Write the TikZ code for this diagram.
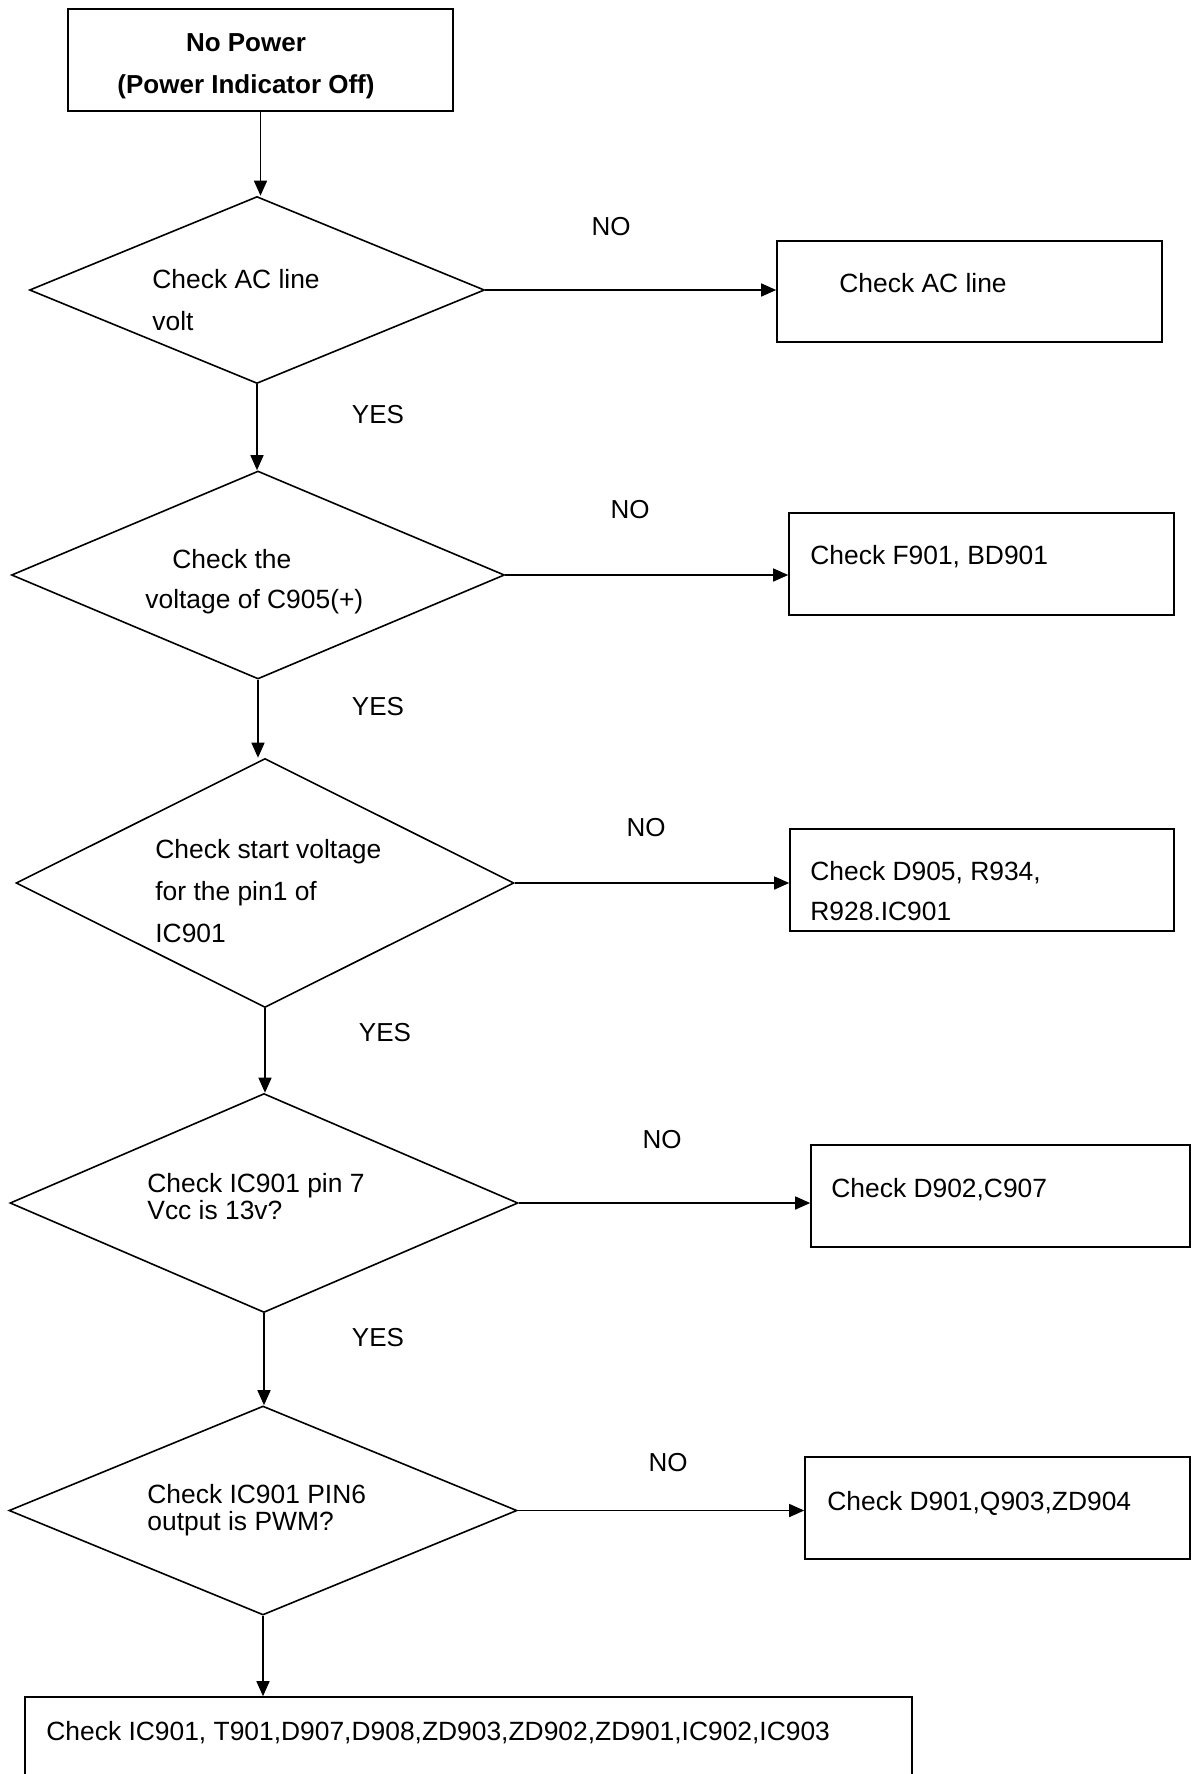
\documentclass[tikz,border=0pt]{standalone}
\usepackage{fontspec}
\setmainfont{Liberation Sans}
\usetikzlibrary{shapes.geometric, arrows.meta, positioning}

\begin{document}
\begin{tikzpicture}
  [
    x=0.5pt, y=-0.5pt,
    Box/.style={rectangle, draw=black, line width=0.8pt, inner sep=0pt},
    Decision/.style={diamond, draw=black, line width=0.8pt, inner sep=0pt},
    Note/.style={inner sep=0pt, anchor=north west, align=left, font=\fontsize{13.2}{21}\selectfont},
    Tight/.style={Note, font=\fontsize{13.2}{13.5}\selectfont},
    Answer/.style={inner sep=0pt, font=\fontsize{13}{15}\selectfont},
    Arrow/.style={-{Triangle[length=7.5pt, width=6.5pt]}, draw, line width=0.75pt}
  ]
  \useasboundingbox (0,0) rectangle (1192,1774);
  % Nodes
  \node[Box, minimum width=192.5pt, minimum height=51pt] (start) at (260.5, 60) {};
  \node[Decision, minimum width=227.5pt, minimum height=93.5pt] (d1) at (257, 290) {};
  \node[Decision, minimum width=246.5pt, minimum height=104pt] (d2) at (258, 575) {};
  \node[Decision, minimum width=249pt, minimum height=124.5pt] (d3) at (265, 883) {};
  \node[Decision, minimum width=254pt, minimum height=109.5pt] (d4) at (264, 1203) {};
  \node[Decision, minimum width=254pt, minimum height=104.5pt] (d5) at (263, 1510.5) {};
  \node[Box, minimum width=192.5pt, minimum height=50.5pt] (b1) at (969.5, 291.5) {};
  \node[Box, minimum width=192.5pt, minimum height=51pt] (b2) at (981.5, 564) {};
  \node[Box, minimum width=192pt, minimum height=51pt] (b3) at (982, 880) {};
  \node[Box, minimum width=189.5pt, minimum height=51pt] (b4) at (1000.5, 1196) {};
  \node[Box, minimum width=192.5pt, minimum height=51pt] (b5) at (997.5, 1508) {};
  \node[Box, minimum width=443.5pt, minimum height=55pt] (b6) at (468.5, 1752) {};
  % Texts
  \node[Note, anchor=north, align=center, font=\bfseries\fontsize{13}{21}\selectfont] (t0) at (246, 33)
    {No Power\\(Power Indicator Off)};
  \node[Note] (t1) at (152, 269) {Check AC line\\volt};
  \node[Note, font=\fontsize{13.2}{20}\selectfont] (t2) at (145, 549) {\hspace*{13.5pt}Check the\\voltage of C905(+)};
  \node[Note] (t3) at (155, 839) {Check start voltage\\for the pin1 of\\IC901};
  \node[Tight] (t4) at (147, 1173) {Check IC901 pin 7\\Vcc is 13v?};
  \node[Tight] (t5) at (147, 1484) {Check IC901 PIN6\\output is PWM?};
  \node[Note] (u1) at (839, 273) {Check AC line};
  \node[Note] (u2) at (810, 545) {Check F901, BD901};
  \node[Note, font=\fontsize{13.2}{20}\selectfont] (u3) at (810, 861) {Check D905, R934,\\R928.IC901};
  \node[Note] (u4) at (831, 1178) {Check D902,C907};
  \node[Note] (u5) at (827, 1491) {Check D901,Q903,ZD904};
  \node[Note] (u6) at (46, 1721) {Check IC901, T901,D907,D908,ZD903,ZD902,ZD901,IC902,IC903};
  % Answers
  \node[Answer] (no1) at (611, 227) {NO};
  \node[Answer] (no2) at (630, 510) {NO};
  \node[Answer] (no3) at (646, 828) {NO};
  \node[Answer] (no4) at (662, 1140) {NO};
  \node[Answer] (no5) at (668, 1463) {NO};
  \node[Answer] (yes1) at (378, 415) {YES};
  \node[Answer] (yes2) at (378, 707) {YES};
  \node[Answer] (yes3) at (385, 1033) {YES};
  \node[Answer] (yes4) at (378, 1338) {YES};
  % Lines
  \path [Arrow] (start.south) -- (start.south |- d1.north);
  \path [Arrow] (d1.south) -- (d1.south |- d2.north);
  \path [Arrow] (d2.south) -- (d2.south |- d3.north);
  \path [Arrow] (d3.south) -- (d3.south |- d4.north);
  \path [Arrow] (d4.south) -- (d4.south |- d5.north);
  \path [Arrow] (d5.south) -- (d5.south |- b6.north);
  \path [Arrow] (d1.east) -- (d1.east -| b1.west);
  \path [Arrow] (d2.east) -- (d2.east -| b2.west);
  \path [Arrow] (d3.east) -- (d3.east -| b3.west);
  \path [Arrow] (d4.east) -- (d4.east -| b4.west);
  \path [Arrow] (d5.east) -- (d5.east -| b5.west);
\end{tikzpicture}
\end{document}
